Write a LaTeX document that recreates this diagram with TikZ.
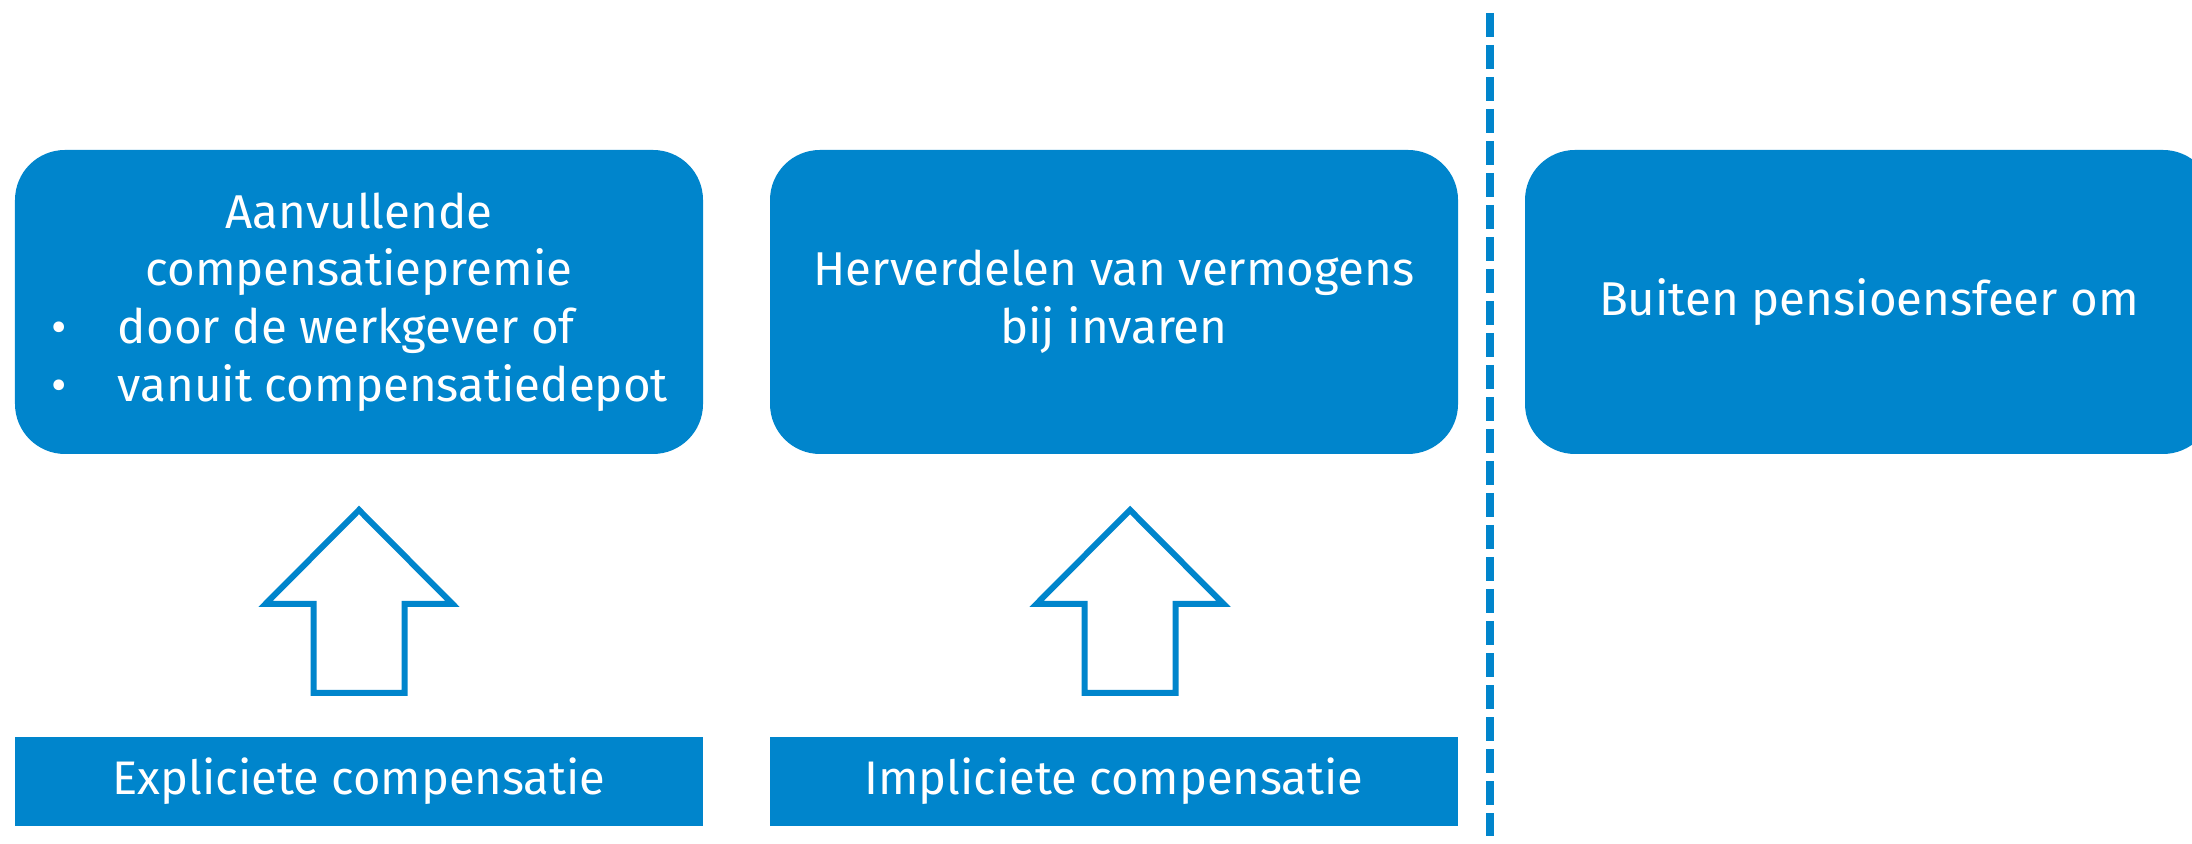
\documentclass[tikz,border=0pt]{standalone}
\usepackage{fontspec}
\setmainfont{Fira Sans}
\definecolor{pfblue}{HTML}{0085CC}
\begin{document}
\begin{tikzpicture}[
        topbox/.style={rectangle, rounded corners=0.5cm, fill=pfblue, text=white, minimum width=6.88cm, minimum height=3.04cm, inner sep=0pt, align=center, font=\fontsize{13.5}{16.4}\selectfont},
        labelbox/.style={rectangle, fill=pfblue, text=white, minimum width=6.88cm, minimum height=0.89cm, inner sep=0pt, font=\fontsize{13.4}{16}\selectfont},
        uparrow/.style={draw=pfblue, line width=0.06cm, fill=white, line join=miter},
        divider/.style={draw=pfblue, line width=0.08cm, dash pattern=on 0.24cm off 0.08cm}
      ]
      \clip (0,0) rectangle (21.92,8.44);

      % Top row
      \node[topbox] (premie) at (3.59,5.42) {Aanvullende\\compensatiepremie\\
        \makebox[6.16cm][l]{\makebox[0.67cm][l]{\textbullet}door de werkgever of}\\
        \makebox[6.16cm][l]{\makebox[0.67cm][l]{\textbullet}vanuit compensatiedepot}};
      \node[topbox] (herverdelen) at (11.14,5.42) {Herverdelen van vermogens\\bij invaren};
      \node[topbox] (buiten) at (18.69,5.42) {Buiten pensioensfeer om};

      % Bottom row
      \node[labelbox] (expliciet) at (3.59,0.625) {Expliciete compensatie};
      \node[labelbox] (impliciet) at (11.14,0.625) {Impliciete compensatie};

      % Block arrows
      \coordinate (tip1) at (3.59,3.34);
      \coordinate (tip2) at (11.30,3.34);
      \draw[uparrow] (tip1) -- ++(-0.935,-0.94) -- ++(0.48,0) -- ++(0,-0.89) -- ++(0.91,0) -- ++(0,0.89) -- ++(0.48,0) -- cycle;
      \draw[uparrow] (tip2) -- ++(-0.935,-0.94) -- ++(0.48,0) -- ++(0,-0.89) -- ++(0.91,0) -- ++(0,0.89) -- ++(0.48,0) -- cycle;

      % Divider
      \coordinate (divtop) at (14.90,8.31);
      \coordinate (divbot) at (14.90,0.08);
      \draw[divider] (divtop) -- (divbot);
    \end{tikzpicture}
\end{document}
